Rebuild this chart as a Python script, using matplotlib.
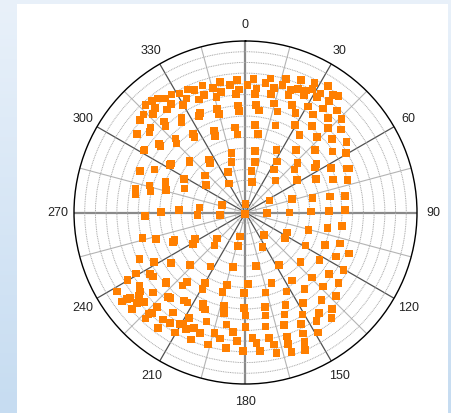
import numpy as np
import matplotlib
matplotlib.use("Agg")
import matplotlib.pyplot as plt
from matplotlib.patches import Rectangle

plt.rcParams['font.family'] = ['Liberation Sans', 'DejaVu Sans']

# ---- data (angle in degrees clockwise from north, radius) ----
theta_nw = [317, 320, 322.5, 325, 328, 331, 334.7, 337.4, 341.3, 345.5, 348.9, 353, 356.4,
            313.9, 316.8, 319, 322.6, 325.6, 329.7, 332.6, 337.6, 340.5, 345.9, 348.5, 357.1, 355.3,
            311.2, 305.9, 310, 311.8, 317.3, 318, 326, 324.6, 334.4, 335.5, 344.7, 345, 356.1, 356.4,
            302, 301.3, 308.5, 308.1, 316.7, 315, 326.3, 325.9, 338.8, 338.2, 352.8, 354.1,
            291.4, 295.3, 302.2, 303.4, 312.5, 311.6, 325.4, 324.5, 346.7, 344.6,
            282, 279.5, 285.6, 282.8, 291, 285.9, 298.5, 291.4, 312.5, 304.7, 336.6, 330.1,
            276.2, 287, 0, 200, 268.1, 270.5, 272, 266.8, 264]
r_nw = [13.7, 13.6, 13.4, 13.0, 13.0, 12.7, 12.7, 12.4, 12.5, 12.0, 12.4, 12.0, 12.4,
        13.2, 12.6, 12.9, 12.1, 12.3, 11.6, 12.0, 11.4, 11.6, 11.1, 11.5, 11.5, 11.1,
        13.1, 12.5, 11.7, 11.9, 11.0, 11.4, 10.7, 10.3, 10.0, 10.2, 10.0, 9.5, 10.0, 9.5,
        11.1, 11.1, 10.3, 10.1, 9.5, 9.1, 8.8, 8.5, 8.2, 7.7, 8.0, 7.3,
        10.6, 9.4, 8.3, 8.3, 7.1, 7.0, 6.0, 5.7, 5.7, 4.9,
        10.5, 10.4, 9.3, 9.1, 8.0, 7.7, 6.5, 6.1, 5.1, 4.5, 4.1, 3.1,
        4.3, 2.3, 0.8, 0.15, 9.4, 7.9, 6.2, 4.5, 2.4]

theta_ne = [3.5, 10.5, 16.8, 22.7, 28.1, 33.1, 36.7, 38.7, 32.2, 28.5, 26.3, 23.1, 20.2, 16.2, 12.8, 8.8, 5.1, 0.9,
            4.5, 12.3, 20.1, 26.6, 31.8, 36.7, 36.8, 41.9, 45.8, 41.0, 34.7,
            5.5, 14.6, 23.4, 30.6, 7.7, 17.6, 26.7, 6.1, 19.1, 29.4, 37.6, 44.2, 49.0, 49.8, 55.0,
            9.2, 34.8, 43.4, 8.6, 26.4, 39.1, 48.0, 54.9, 59.3, 10.4, 31.8, 46.5, 55.8, 62.4, 66.5, 67.0,
            8.2, 33.6, 48.7, 57.0, 12.3, 42.9, 57.6, 64.8, 69.4, 72.2,
            63.8, 74.1, 77.9, 79.3, 80.5, 91.8, 90, 89.1, 88.9, 88.7]
r_ne = [12.5, 12.7, 13.0, 13.4, 13.7, 14.1, 13.7, 13.9, 13.1, 13.1, 12.7, 12.5, 12.2, 12.4, 11.9, 12.2, 11.6, 11.9,
        11.1, 11.3, 11.7, 12.2, 12.7, 13.0, 12.1, 12.8, 12.5, 11.7, 11.1,
        10.1, 10.5, 10.9, 11.5, 9.6, 9.9, 10.4, 8.2, 8.6, 9.4, 10.2, 11.0, 11.8, 10.6, 11.5,
        7.4, 8.8, 9.7, 5.8, 6.5, 7.5, 8.7, 9.9, 10.9, 4.8, 5.6, 6.7, 8.0, 9.0, 10.3, 10.5,
        3.9, 4.8, 6.1, 7.7, 2.9, 4.1, 5.7, 7.3, 8.7, 10.0,
        2.5, 4.5, 6.4, 8.0, 9.4, 2.0, 4.1, 6.1, 7.8, 9.3]

theta_se = [140.5, 122.8, 118.9, 112.4, 108.1, 97.9, 100.8, 105.7, 115.6, 154.1, 147.5, 132.1, 122.7, 116, 111.5,
            169.2, 145.7, 134.3, 126.4, 120.3, 159.8, 152.7, 142.3, 133.6, 127.3,
            166, 156.7, 147.5, 139, 132.7, 168.5, 159, 150.7, 143.7, 138.1,
            169, 161.2, 153.6, 146.9, 140.9, 170.1, 161.4, 154.6, 148.8,
            169.3, 162.1, 155.5, 167.9, 161.7, 156.6, 175.2, 174.1, 167.5, 176.8]
r_se = [2.7, 4.4, 6.4, 8.0, 9.3, 9.1, 7.8, 6.1, 4.3, 3.6, 5.8, 6.9, 8.2, 9.4, 10.4,
        5.1, 7.7, 8.7, 9.7, 10.6, 7.0, 8.3, 9.0, 10.0, 10.9,
        7.7, 9.4, 10.0, 10.8, 11.5, 9.0, 10.2, 10.9, 11.6, 12.1,
        9.8, 11.1, 11.6, 12.1, 12.7, 10.8, 12.2, 12.5, 13.1,
        11.9, 12.9, 13.3, 12.6, 13.7, 14.0, 12.2, 13.0, 13.4, 11.7]

theta_sw = [193.3, 192.2, 227.5, 223.2, 242.2, 238.8, 249, 247.9, 253.3, 256.2,
            192.8, 212.8, 226.6, 235.7, 241.6, 246.2,
            177.9, 194.2, 209.9, 209.3, 220.1, 220.7, 228.9, 228.5, 235.3, 237.2, 240.9, 240.2, 235.4,
            181, 196.2, 204.8, 204, 214.9, 212.8, 222.5, 221.4, 229.1, 233.1, 231.9, 233.5, 233.9, 234.2, 238.4,
            181, 193.1, 192.1, 202.8, 199.6, 208.2, 209.4, 215.9, 217.7, 223.1, 223, 223.4, 223.8, 230.2, 229.5, 228.5,
            180, 189.6, 180, 203.9, 210.5, 214.4, 217.2, 210.5, 207.2, 200.7, 194.5, 191.5, 185.9, 183.7,
            195.8, 203.3, 188.2, 181]
r_sw = [2.3, 3.2, 3.6, 4.2, 5.3, 5.7, 7.1, 7.3, 8.7, 9.9,
        5.2, 6.0, 7.1, 8.4, 9.7, 10.8,
        6.7, 7.0, 7.6, 8.2, 8.5, 9.0, 9.8, 9.9, 10.5, 10.6, 11.7, 12.7, 12.0,
        7.5, 7.7, 9.4, 9.7, 10.0, 10.0, 10.7, 10.6, 11.4, 12.3, 12.6, 13.4, 13.7, 14.2, 14.1,
        8.9, 8.9, 9.6, 9.8, 10.8, 11.2, 11.9, 11.5, 12.6, 12.1, 12.8, 13.6, 13.1, 13.2, 13.9, 12.6,
        9.6, 10.6, 10.7, 11.8, 12.1, 12.5, 13.5, 13.0, 12.2, 12.0, 11.6, 12.0, 11.2, 12.0,
        12.8, 12.9, 12.8, 12.9]

angle_labels = ['0', '30', '60', '90', '120', '150', '180', '210', '240', '270', '300', '330']
r_max = 16

theta_all = np.array(theta_nw + theta_ne + theta_se + theta_sw)
r_all = np.array(r_nw + r_ne + r_se + r_sw)

# ---- figure ----
W, H = 452, 414
fig = plt.figure(figsize=(W / 100, H / 100), dpi=100)

# light-blue gradient backdrop with white panel
bg = fig.add_axes([0, 0, 1, 1], zorder=-10)
grad = np.linspace(0, 1, 256).reshape(-1, 1)
bg.imshow(grad, aspect='auto', cmap=matplotlib.colors.LinearSegmentedColormap.from_list(
    'bgc', ['#e9f1fa', '#c6dcf1']), extent=[0, 1, 0, 1], origin='upper')
bg.add_patch(Rectangle((17 / W, 0), (448 - 17) / W, (H - 5) / H, facecolor='white',
                       edgecolor='none', transform=bg.transAxes))
bg.set_xlim(0, 1)
bg.set_ylim(0, 1)
bg.axis('off')

cx, cy, R = 245.5, 213.5, 171.5
ax = fig.add_axes([(cx - R) / W, (H - cy - R) / H, 2 * R / W, 2 * R / H], projection='polar')
ax.set_facecolor('none')
ax.set_theta_zero_location('N')
ax.set_theta_direction(-1)
ax.set_ylim(0, r_max)

# angular grid every 15 deg, labels on multiples of 30
ticks15 = np.arange(0, 360, 15)
labels15 = [angle_labels[i // 2] if i % 2 == 0 else '' for i in range(len(ticks15))]
ax.set_xticks(np.deg2rad(ticks15))
ax.set_xticklabels(labels15, fontsize=9, color='#222222')
ax.tick_params(axis='x', pad=5, direction='in', length=4, width=0.8, color='black')
for i, gl in enumerate(ax.xaxis.get_gridlines()):
    deg = ticks15[i]
    if deg % 90 == 0:
        gl.set_color('#8a8a8a'); gl.set_linewidth(1.6); gl.set_linestyle('-')
    elif deg % 30 == 0:
        gl.set_color('#505050'); gl.set_linewidth(0.9); gl.set_linestyle('-')
    else:
        gl.set_color('#b4b4b4'); gl.set_linewidth(0.8); gl.set_linestyle('-')

ax.set_yticks(np.arange(1, r_max, 1))
ax.set_yticklabels([])
ax.yaxis.grid(True, color='#a8a8a8', linestyle=(0, (1, 0.8)), linewidth=0.7)
ax.spines['polar'].set_color('black')
ax.spines['polar'].set_linewidth(1.0)

ax.scatter(np.deg2rad(theta_all), r_all, marker='s', s=30, color='#ff7f00',
           edgecolors='none', zorder=5, clip_on=False)

fig.savefig('out.png', dpi=100)
